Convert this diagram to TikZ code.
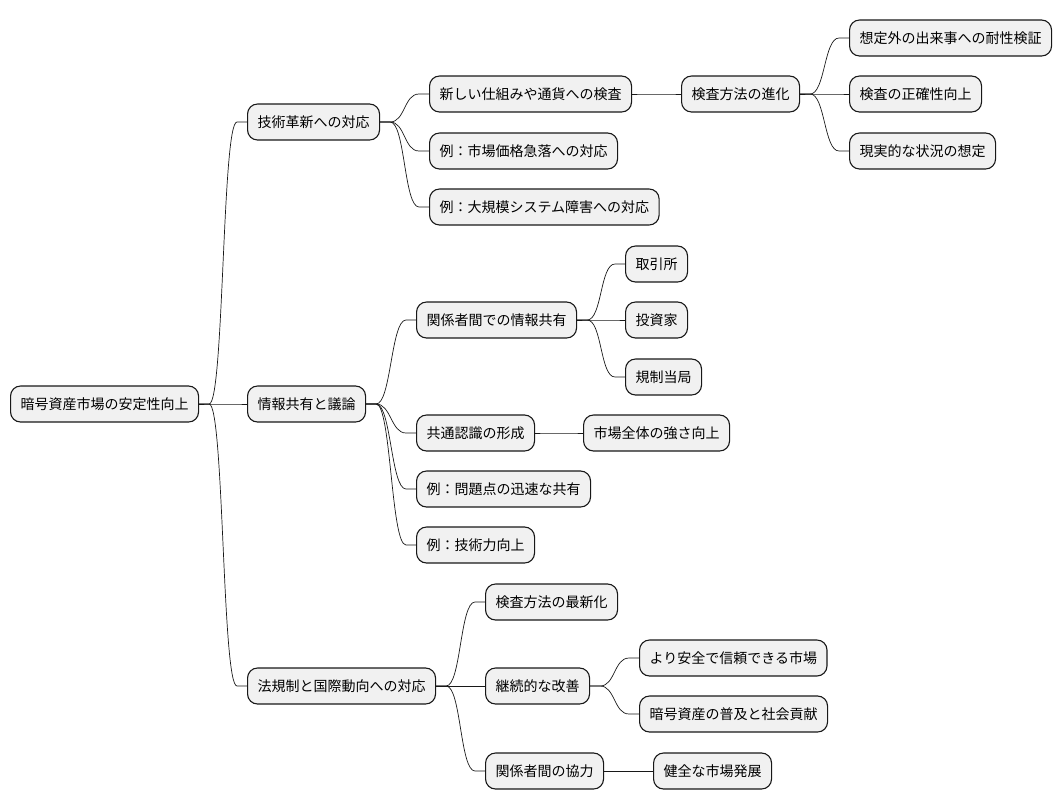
\documentclass[tikz,border=0pt]{standalone}
\usepackage{fontspec}
\newfontfamily\jpfont{Noto Sans CJK JP}
\definecolor{boxfill}{HTML}{F1F1F1}
\definecolor{boxline}{HTML}{181818}
\tikzset{
  idea/.style={draw=boxline, fill=boxfill, line width=1.1pt, rounded corners=10pt,
    minimum height=36pt, inner xsep=10pt, anchor=west,
    font=\jpfont\fontsize{14pt}{16pt}\selectfont},
  branch/.style={draw=boxline, line width=0.7pt}
}
% connector from the right side of a parent to the left side of a child
\newcommand{\branchto}[2]{\draw[branch] (#1.east) -- ++(10,0) .. controls +(15,0) and +(-15,0) .. ([xshift=-10pt]#2.west) -- (#2.west);}
\begin{document}
\begin{tikzpicture}[x=1pt, y=-1pt]
\useasboundingbox (0,0) rectangle (1062,809);
% root
\node[idea] (root) at (10,404) {暗号資産市場の安定性向上};
% first level
\node[idea] (tech) at (247,122) {技術革新への対応};
\node[idea] (info) at (247,404) {情報共有と議論};
\node[idea] (law) at (247,686) {法規制と国際動向への対応};
% technology branch
\node[idea] (check) at (429,94) {新しい仕組みや通貨への検査};
\node[idea] (crash) at (429,151) {例：市場価格急落への対応};
\node[idea] (outage) at (429,207) {例：大規模システム障害への対応};
\node[idea] (evolve) at (681,94) {検査方法の進化};
\node[idea] (stress) at (849,38) {想定外の出来事への耐性検証};
\node[idea] (accuracy) at (849,94) {検査の正確性向上};
\node[idea] (realistic) at (849,151) {現実的な状況の想定};
% information branch
\node[idea] (share) at (416,320) {関係者間での情報共有};
\node[idea] (exchange) at (625,264) {取引所};
\node[idea] (investor) at (625,320) {投資家};
\node[idea] (regulator) at (625,377) {規制当局};
\node[idea] (common) at (416,433) {共通認識の形成};
\node[idea] (strength) at (583,433) {市場全体の強さ向上};
\node[idea] (quick) at (416,489) {例：問題点の迅速な共有};
\node[idea] (skill) at (416,545) {例：技術力向上};
% law branch
\node[idea] (update) at (485,602) {検査方法の最新化};
\node[idea] (improve) at (485,686) {継続的な改善};
\node[idea] (safer) at (639,658) {より安全で信頼できる市場};
\node[idea] (spread) at (639,714) {暗号資産の普及と社会貢献};
\node[idea] (coop) at (485,771) {関係者間の協力};
\node[idea] (healthy) at (653,771) {健全な市場発展};
% connectors
\branchto{root}{tech}
\branchto{root}{info}
\branchto{root}{law}
\branchto{tech}{check}
\branchto{tech}{crash}
\branchto{tech}{outage}
\branchto{check}{evolve}
\branchto{evolve}{stress}
\branchto{evolve}{accuracy}
\branchto{evolve}{realistic}
\branchto{info}{share}
\branchto{info}{common}
\branchto{info}{quick}
\branchto{info}{skill}
\branchto{share}{exchange}
\branchto{share}{investor}
\branchto{share}{regulator}
\branchto{common}{strength}
\branchto{law}{update}
\branchto{law}{improve}
\branchto{law}{coop}
\branchto{improve}{safer}
\branchto{improve}{spread}
\branchto{coop}{healthy}
\end{tikzpicture}
\end{document}
